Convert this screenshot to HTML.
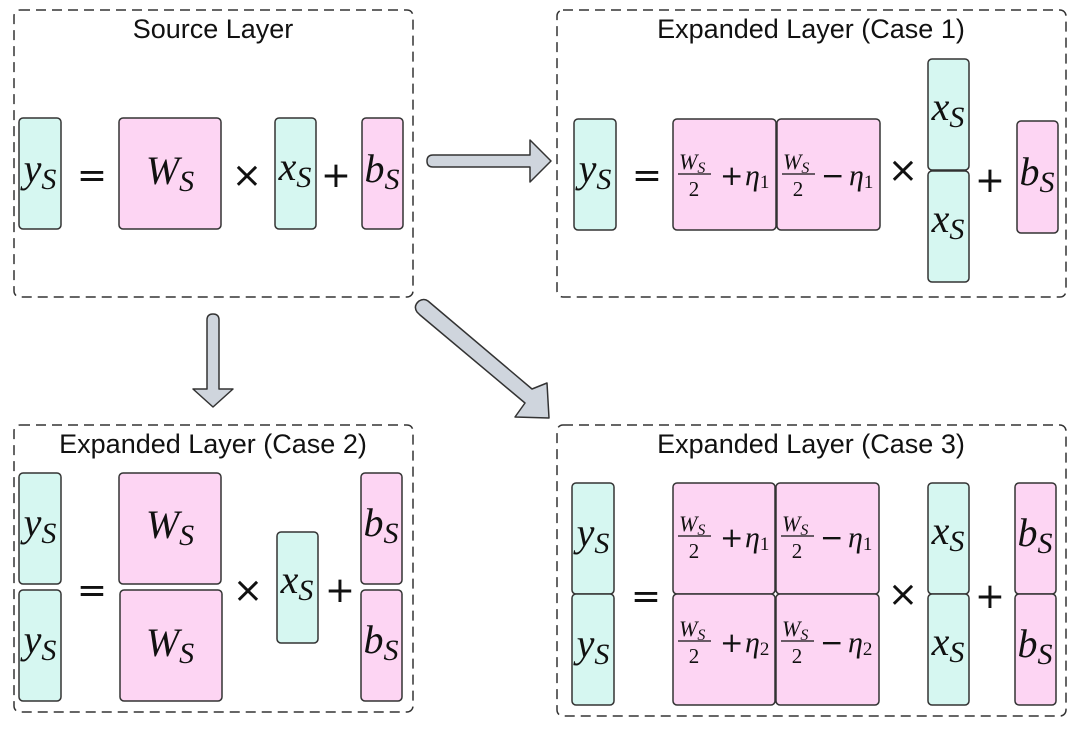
<!DOCTYPE html>
<html><head><meta charset="utf-8"><style>
html,body{margin:0;padding:0;background:#fff;}
svg{display:block;}
.t{font-family:"Liberation Sans",sans-serif;font-size:27px;fill:#111;text-anchor:middle;}
.m{font-family:"Liberation Serif",serif;font-style:italic;font-size:40px;fill:#111;text-anchor:middle;}
.op{font-family:"DejaVu Sans",sans-serif;font-size:36px;fill:#111;text-anchor:middle;}
.f{font-family:"Liberation Serif",serif;font-style:italic;font-size:22px;fill:#111;}
.fn{font-family:"Liberation Serif",serif;font-size:21px;fill:#111;text-anchor:middle;}
.e{font-family:"Liberation Serif",serif;font-style:italic;font-size:30px;fill:#111;}
.pm{font-family:"DejaVu Sans",sans-serif;font-size:28px;fill:#111;}
.g{fill:#d6f7f1;stroke:#333;stroke-width:1.5;}
.p{fill:#fdd5f3;stroke:#333;stroke-width:1.5;}
.d{fill:none;stroke:#333;stroke-width:1.5;stroke-dasharray:10 6;}
.a{fill:#cfd5dd;stroke:#333;stroke-width:1.5;stroke-linejoin:round;}
</style></head><body>
<svg width="1080" height="729" viewBox="0 0 1080 729" xmlns="http://www.w3.org/2000/svg">
<defs>
<g id="cell1">
 <text class="f" x="6" y="-5">W<tspan font-size="16" dy="4">S</tspan></text>
 <line x1="5" y1="0" x2="38" y2="0" stroke="#111" stroke-width="1.3"/>
 <text class="fn" x="21" y="22">2</text>
</g>
</defs>

<!-- Source -->
<rect class="d" x="14" y="10" width="399" height="287" rx="6"/>
<text class="t" x="213" y="38">Source Layer</text>
<rect class="g" x="19" y="118" width="42" height="111" rx="4"/>
<text class="m" x="40" y="182">y<tspan font-size="30" dy="7">S</tspan></text>
<text class="op" x="92" y="187">=</text>
<rect class="p" x="119" y="118" width="102" height="111" rx="4"/>
<text class="m" x="170" y="184">W<tspan font-size="30" dy="7">S</tspan></text>
<text class="op" x="247" y="187">×</text>
<rect class="g" x="275" y="118" width="41" height="111" rx="4"/>
<text class="m" x="295" y="180">x<tspan font-size="30" dy="7">S</tspan></text>
<text class="op" x="336" y="187">+</text>
<rect class="p" x="362" y="118" width="41" height="111" rx="4"/>
<text class="m" x="382" y="182">b<tspan font-size="30" dy="7">S</tspan></text>

<!-- Case 1 -->
<rect class="d" x="557" y="10" width="509" height="287" rx="6"/>
<text class="t" x="811" y="38">Expanded Layer (Case 1)</text>
<rect class="g" x="574" y="119" width="42" height="111" rx="4"/>
<text class="m" x="595" y="182">y<tspan font-size="30" dy="7">S</tspan></text>
<text class="op" x="647" y="187">=</text>
<rect class="p" x="673" y="119" width="103" height="111" rx="4"/>
<rect class="p" x="777" y="119" width="103" height="111" rx="4"/>
<use href="#cell1" x="673" y="174"/>
<text class="pm" x="720" y="185">+</text><text class="e" x="745" y="185">η<tspan font-size="19" font-style="normal" dy="3">1</tspan></text>
<use href="#cell1" x="777" y="174"/>
<text class="pm" x="821" y="185">−</text><text class="e" x="849" y="185">η<tspan font-size="19" font-style="normal" dy="3">1</tspan></text>
<text class="op" x="903" y="182">×</text>
<rect class="g" x="928" y="59" width="41" height="111" rx="4"/>
<rect class="g" x="928" y="171" width="41" height="111" rx="4"/>
<text class="m" x="948" y="120">x<tspan font-size="30" dy="7">S</tspan></text>
<text class="m" x="948" y="232">x<tspan font-size="30" dy="7">S</tspan></text>
<text class="op" x="990" y="192">+</text>
<rect class="p" x="1017" y="121" width="41" height="112" rx="4"/>
<text class="m" x="1037" y="185">b<tspan font-size="30" dy="7">S</tspan></text>

<!-- Case 2 -->
<rect class="d" x="14" y="425" width="399" height="287" rx="6"/>
<text class="t" x="213" y="453">Expanded Layer (Case 2)</text>
<rect class="g" x="19" y="473" width="42" height="111" rx="4"/>
<rect class="g" x="19" y="590" width="42" height="111" rx="4"/>
<text class="m" x="40" y="536">y<tspan font-size="30" dy="7">S</tspan></text>
<text class="m" x="40" y="653">y<tspan font-size="30" dy="7">S</tspan></text>
<text class="op" x="92" y="602">=</text>
<rect class="p" x="119" y="473" width="102" height="111" rx="4"/>
<rect class="p" x="120" y="590" width="102" height="111" rx="4"/>
<text class="m" x="170" y="538">W<tspan font-size="30" dy="7">S</tspan></text>
<text class="m" x="170" y="656">W<tspan font-size="30" dy="7">S</tspan></text>
<text class="op" x="248" y="602">×</text>
<rect class="g" x="277" y="532" width="41" height="111" rx="4"/>
<text class="m" x="297" y="593">x<tspan font-size="30" dy="7">S</tspan></text>
<text class="op" x="340" y="602">+</text>
<rect class="p" x="361" y="473" width="41" height="111" rx="4"/>
<rect class="p" x="361" y="590" width="41" height="111" rx="4"/>
<text class="m" x="381" y="536">b<tspan font-size="30" dy="7">S</tspan></text>
<text class="m" x="381" y="653">b<tspan font-size="30" dy="7">S</tspan></text>

<!-- Case 3 -->
<rect class="d" x="557" y="425" width="509" height="291" rx="6"/>
<text class="t" x="811" y="453">Expanded Layer (Case 3)</text>
<rect class="g" x="572" y="483" width="42" height="111" rx="4"/>
<rect class="g" x="572" y="594" width="42" height="111" rx="4"/>
<text class="m" x="593" y="546">y<tspan font-size="30" dy="7">S</tspan></text>
<text class="m" x="593" y="657">y<tspan font-size="30" dy="7">S</tspan></text>
<text class="op" x="646" y="608">=</text>
<rect class="p" x="673" y="483" width="102" height="111" rx="4"/>
<rect class="p" x="776" y="483" width="103" height="111" rx="4"/>
<rect class="p" x="673" y="594" width="102" height="111" rx="4"/>
<rect class="p" x="776" y="594" width="103" height="111" rx="4"/>
<use href="#cell1" x="673" y="536"/>
<text class="pm" x="720" y="547">+</text><text class="e" x="745" y="547">η<tspan font-size="19" font-style="normal" dy="3">1</tspan></text>
<use href="#cell1" x="776" y="536"/>
<text class="pm" x="820" y="547">−</text><text class="e" x="848" y="547">η<tspan font-size="19" font-style="normal" dy="3">1</tspan></text>
<use href="#cell1" x="673" y="641"/>
<text class="pm" x="720" y="652">+</text><text class="e" x="745" y="652">η<tspan font-size="19" font-style="normal" dy="3">2</tspan></text>
<use href="#cell1" x="776" y="641"/>
<text class="pm" x="820" y="652">−</text><text class="e" x="848" y="652">η<tspan font-size="19" font-style="normal" dy="3">2</tspan></text>
<text class="op" x="903" y="606">×</text>
<rect class="g" x="928" y="483" width="41" height="111" rx="4"/>
<rect class="g" x="928" y="594" width="41" height="111" rx="4"/>
<text class="m" x="948" y="544">x<tspan font-size="30" dy="7">S</tspan></text>
<text class="m" x="948" y="655">x<tspan font-size="30" dy="7">S</tspan></text>
<text class="op" x="990" y="608">+</text>
<rect class="p" x="1015" y="483" width="41" height="111" rx="4"/>
<rect class="p" x="1015" y="594" width="41" height="111" rx="4"/>
<text class="m" x="1035" y="546">b<tspan font-size="30" dy="7">S</tspan></text>
<text class="m" x="1035" y="657">b<tspan font-size="30" dy="7">S</tspan></text>

<!-- Arrows -->
<path class="a" d="M433,155 L530,155 L530,140 L551,161 L530,182 L530,167 L433,167 Q427,167 427,161 Q427,155 433,155 Z"/>
<path class="a" d="M207,320 Q207,314 213,314 Q219,314 219,320 L219,389 L233,389 L213,407 L193,389 L207,389 Z"/>
<path class="a" d="M417,312 Q413,306 419,301 Q424,298 428,301 L532,389 L547,383 L549,418 L515,417 L525,403 L420,315 Z"/>
</svg>
</body></html>
